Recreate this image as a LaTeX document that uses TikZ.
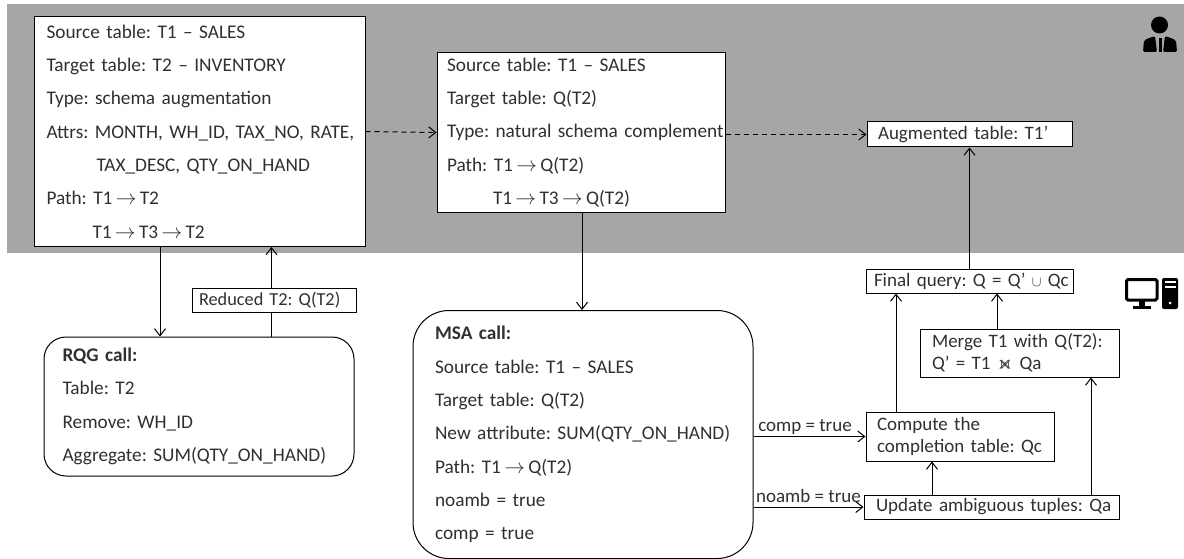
\documentclass[tikz,border=0pt]{standalone}
\usepackage{amsmath}
\usepackage{amssymb}
\usepackage{fontspec}
\setmainfont{Carlito}
\usetikzlibrary{arrows.meta}
\definecolor{bandgray}{HTML}{A6A6A6}
\definecolor{inkgray}{HTML}{303030}
\newcommand{\pathto}{\kern3.3pt$\rightarrow$\kern3.3pt}
\tikzset{
	>={Straight Barb[length=7pt,width=11pt,line width=1pt]},
	infobox/.style={draw=black,fill=white,line width=1pt,font=\fontsize{19.3}{33.3}\selectfont\frenchspacing,text=inkgray,align=left,anchor=center,inner ysep=0pt},
	callbox/.style={infobox,rounded corners=#1},
	smallbox/.style={draw=black,fill=white,line width=1pt,font=\fontsize{19}{22.5}\selectfont\frenchspacing,text=inkgray,align=left,anchor=center,inner ysep=0pt},
	flow/.style={->,line width=1pt,black},
	plainflow/.style={-,line width=1pt,black},
	dashflow/.style={->,line width=1pt,black,dash pattern=on 5pt off 4pt},
	flowlabel/.style={font=\fontsize{19}{22}\selectfont\frenchspacing,text=inkgray,inner sep=1pt}
}
\begin{document}
\begin{tikzpicture}[x=1pt,y=-1pt]
	
	\useasboundingbox (0,0) rectangle (1184,559);
	\fill[bandgray] (7,4) rectangle (1184,253);
	
	\node[infobox,minimum width=331pt,minimum height=230pt,text width=306pt,inner xsep=12.5pt] (sales) at (199.5,131.5)
		{Source table: T1 -- SALES\\Target table: T2 -- INVENTORY\\Type: schema augmentation\\\mbox{Attrs: MONTH, WH\_ID, TAX\_NO, RATE,}\\\hspace*{50pt}TAX\_DESC, QTY\_ON\_HAND\\Path: T1\pathto T2\\\hspace*{46pt}T1\pathto T3\pathto T2};
	\node[infobox,minimum width=288pt,minimum height=159pt,text width=268pt,inner xsep=10pt] (reduced) at (581,132.5)
		{Source table: T1 -- SALES\\Target table: Q(T2)\\\mbox{Type: natural schema complement}\\Path: T1\pathto Q(T2)\\\hspace*{46pt}T1\pathto T3\pathto Q(T2)};
	\node[smallbox,minimum width=205pt,minimum height=25pt,text width=183pt,inner xsep=11pt] (augmented) at (969.5,134.5) {Augmented table: T1’};
	
	\node[smallbox,minimum width=164pt,minimum height=24pt,text width=150pt,inner xsep=7pt,font=\fontsize{18.3}{22.5}\selectfont\frenchspacing] (qt) at (274,300) {\mbox{Reduced T2: Q(T2)}};
	\node[callbox=22pt,minimum width=310pt,minimum height=139pt,text width=273pt,inner xsep=18.5pt] (rqg) at (199,406.5)
		{\textbf{RQG call:}\\Table: T2\\Remove: WH\_ID\\Aggregate: SUM(QTY\_ON\_HAND)};
	\node[callbox=36pt,minimum width=340pt,minimum height=248pt,text width=296pt,inner xsep=22pt] (msa) at (583,434.5)
		{\textbf{MSA call:}\\Source table: T1 -- SALES\\Target table: Q(T2)\\\mbox{New attribute: SUM(QTY\_ON\_HAND)}\\Path: T1\pathto Q(T2)\\noamb = true\\comp = true};
	
	\node[smallbox,minimum width=207pt,minimum height=24pt,text width=191pt,inner xsep=8pt] (final) at (969.5,281) {\mbox{Final query: Q = Q’ $\scriptstyle\cup$ Qc}};
	\node[smallbox,minimum width=199pt,minimum height=48pt,text width=175pt,inner xsep=12pt] (merge) at (1019.5,353) {Merge T1 with Q(T2):\\Q’ = T1 $\Join$ Qa};
	\node[smallbox,minimum width=188pt,minimum height=49pt,text width=166pt,inner xsep=11pt] (compute) at (960,436.5) {Compute the\\\mbox{completion table: Qc}};
	\node[smallbox,minimum width=255pt,minimum height=24pt,text width=231pt,inner xsep=12pt] (update) at (991.5,507) {\mbox{Update ambiguous tuples: Qa}};
	
	\path[flow] (sales.south -| 160,0) edge (rqg.north -| 160,0);
	\path[plainflow] (rqg.north -| 271.5,0) edge (qt.south -| 271.5,0);
	\path[flow] (qt.north -| 271.5,0) edge (sales.south -| 271.5,0);
	\path[dashflow] (sales.east) edge (reduced.west);
	\path[dashflow] (reduced.east |- augmented.west) edge (augmented.west);
	\path[flow] (reduced.south -| 582,0) edge (msa.north -| 582,0);
	\path[flow] (final.north) edge (augmented.south);
	\path[flow] (compute.north -| 896,0) edge (final.south -| 896,0);
	\path[flow] (merge.north -| 997,0) edge (final.south -| 997,0);
	\path[flow] (update.north -| 932,0) edge (compute.south -| 932,0);
	\path[flow] (update.north -| 1091,0) edge (merge.south -| 1091,0);
	\draw[flow] (msa.east |- compute.west) -- node[flowlabel,above,pos=.46] (comp) {comp = true} (compute.west);
	\draw[flow] (msa.east |- update.west) -- node[flowlabel,above,pos=.5,yshift=3pt] (noamb) {noamb = true} (update.west);
	
	% user icon
	\fill[black] (1159.5,25) circle (8.5);
	\fill[black,rounded corners=2pt] (1143,52) -- (1144,40) -- (1155,36) -- (1157,52) -- cycle;
	\fill[black,rounded corners=2pt] (1177,52) -- (1176,40) -- (1165,36) -- (1163,52) -- cycle;
	\fill[black] (1158.5,38) rectangle (1161.5,52);
	
	% computer icon
	\draw[black,line width=3pt,rounded corners=1.5pt] (1126.5,279.5) rectangle (1157,300);
	\fill[black] (1139,300) rectangle (1145,306);
	\fill[black] (1133,306) rectangle (1151,309);
	\fill[black,rounded corners=2pt] (1162,278) rectangle (1178,309);
	\fill[white] (1164.5,281) rectangle (1175.5,283);
	\fill[white] (1164.5,285.5) rectangle (1175.5,287.5);
	\fill[white] (1170,303) circle (1.5);
	
\end{tikzpicture}
\end{document}
